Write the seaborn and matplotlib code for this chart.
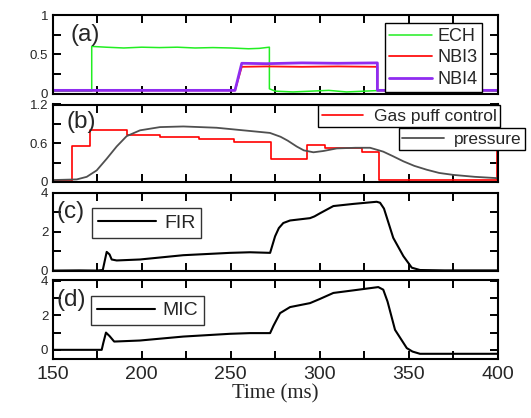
import numpy as np
import pandas as pd
import matplotlib
matplotlib.use("Agg")
import matplotlib.pyplot as plt
import seaborn as sns
from matplotlib.ticker import MultipleLocator

# ---- data (time in ms) ----
ech_t = [150, 160, 172, 172, 180, 190, 200, 210, 220, 230, 240, 250, 260, 266, 271.7, 271.7,
         275, 285, 295, 305, 315, 325, 335, 345, 360, 375, 390, 400]
ech_v = [0.03, 0.03, 0.03, 0.60, 0.59, 0.58, 0.59, 0.585, 0.59, 0.58, 0.585, 0.58, 0.57, 0.575, 0.59, 0.06,
         0.03, 0.02, 0.03, 0.04, 0.02, 0.03, 0.04, 0.02, 0.03, 0.02, 0.04, 0.03]
nbi3_t = [150, 200, 252.4, 256.2, 270, 290, 310, 332.3, 332.3, 360, 400]
nbi3_v = [0.04, 0.04, 0.04, 0.34, 0.345, 0.34, 0.345, 0.34, 0.04, 0.04, 0.04]
nbi4_t = [150, 200, 252.4, 256.2, 270, 290, 310, 332.3, 332.3, 360, 400]
nbi4_v = [0.04, 0.04, 0.04, 0.385, 0.38, 0.39, 0.385, 0.39, 0.04, 0.04, 0.04]

gas_t = [150, 160.8, 160.8, 171, 171, 191.6, 191.6, 210.3, 210.3, 232, 232, 252, 252, 272.5, 272.5,
         293, 293, 302.9, 302.9, 323.5, 323.5, 333.4, 333.4, 399.5, 399.5]
gas_v = [0.02, 0.02, 0.55, 0.55, 0.81, 0.81, 0.73, 0.73, 0.70, 0.70, 0.66, 0.66, 0.62, 0.62, 0.36,
         0.36, 0.57, 0.57, 0.52, 0.52, 0.47, 0.47, 0.03, 0.03, 0.48]
pres_t = [150, 163.6, 169.2, 174.8, 180.4, 186, 191.6, 199.1, 210.3, 223.4, 242.1, 260.8, 272,
          278, 282, 287, 291, 296.4, 302, 309.5, 320, 328.2, 335.6, 341, 346.9, 353, 360, 367, 374.9, 387, 399.3]
pres_v = [0.03, 0.04, 0.08, 0.18, 0.36, 0.55, 0.71, 0.80, 0.85, 0.86, 0.84, 0.79, 0.76,
          0.70, 0.64, 0.55, 0.49, 0.46, 0.48, 0.52, 0.53, 0.53, 0.47, 0.40, 0.32, 0.25, 0.19, 0.14, 0.11, 0.08, 0.06]

fir_t = [150, 165, 174.8, 178.2, 180.4, 182, 183.2, 186, 199.1, 223.4, 249.6, 260.8, 272.1,
         274.9, 277, 279.5, 283.3, 294.5, 297, 300.1, 307.6, 318.8, 331.9, 333.8, 336, 341.2,
         346.9, 351.6, 356.2, 370, 400]
fir_v = [0.02, 0.03, 0.02, 0.05, 0.98, 0.85, 0.59, 0.54, 0.59, 0.81, 0.93, 0.96, 0.93,
         1.78, 2.2, 2.46, 2.59, 2.71, 2.80, 2.96, 3.33, 3.44, 3.55, 3.50, 3.2, 1.70,
         0.76, 0.17, 0.05, 0.03, 0.03]
mic_t = [150, 177.6, 178.5, 180, 182, 184.6, 199, 223.4, 249.6, 260.8, 272.1,
         274, 277.7, 283.3, 294.5, 300, 307.6, 318.8, 332.8, 335.6, 338, 342.2,
         348.8, 352, 356.2, 370, 400]
mic_v = [0.0, 0.0, 0.4, 1.0, 0.8, 0.48, 0.54, 0.77, 0.93, 0.97, 0.97,
         1.4, 2.13, 2.48, 2.71, 2.95, 3.30, 3.45, 3.64, 3.49, 2.8, 1.16,
         0.10, -0.1, -0.23, -0.23, -0.23]

sns.set_style("ticks")
plt.rcParams['font.family'] = ['Liberation Sans', 'DejaVu Sans']

fig = plt.figure(figsize=(5.31, 4.18), dpi=100)
L, W = 0.0989, 0.839
ax_a = fig.add_axes([L, 0.7763, W, 0.1878])
ax_b = fig.add_axes([L, 0.5646, W, 0.1854])
ax_c = fig.add_axes([L, 0.3517, W, 0.1866])
ax_d = fig.add_axes([L, 0.1404, W, 0.1897])


def style(ax, ylim, major, minor, labels):
    ax.set_xlim(150, 400)
    ax.set_ylim(*ylim)
    ax.xaxis.set_major_locator(MultipleLocator(50))
    ax.xaxis.set_minor_locator(MultipleLocator(25))
    ax.set_yticks(major)
    ax.set_yticklabels(labels)
    ax.yaxis.set_minor_locator(MultipleLocator(minor))
    ax.tick_params(which='both', direction='in', top=True, right=True, width=1.4, color='black')
    ax.tick_params(which='major', length=6)
    ax.tick_params(which='minor', length=6)
    ax.tick_params(axis='y', labelsize=9.5, pad=3)
    for s in ax.spines.values():
        s.set_linewidth(1.5)
        s.set_color('black')
    ax.set_xlabel('')
    ax.set_ylabel('')


# (a) heating
sns.lineplot(x=ech_t, y=ech_v, ax=ax_a, color='#22ee22', lw=1.1, sort=False, estimator=None, label='ECH')
sns.lineplot(x=nbi3_t, y=nbi3_v, ax=ax_a, color='#ff1010', lw=1.3, sort=False, estimator=None, label='NBI3')
sns.lineplot(x=nbi4_t, y=nbi4_v, ax=ax_a, color='#8f2cf0', lw=2.0, sort=False, estimator=None, label='NBI4')
style(ax_a, (0, 1.0), [0, 0.5, 1], 0.25, ['0', '0.5', '1'])
ax_a.legend(loc='upper right', bbox_to_anchor=(0.965, 0.894), borderaxespad=0, fontsize=13,
            frameon=True, fancybox=False, edgecolor='black', handlelength=2.4, labelspacing=0.25,
            borderpad=0.25, handletextpad=0.3, framealpha=1).get_frame().set_linewidth(1.0)

# (b) gas puff / pressure
sns.lineplot(x=gas_t, y=gas_v, ax=ax_b, color='#ff0000', lw=1.2, sort=False, estimator=None, legend=False)
sns.lineplot(x=pres_t, y=pres_v, ax=ax_b, color='#505050', lw=1.3, sort=False, estimator=None, legend=False)
style(ax_b, (0, 1.2), [0, 0.6, 1.2], 0.3, ['0', '0.6', '1.2'])
gas_line = ax_b.lines[0]
pres_line = ax_b.lines[1]
leg1 = ax_b.legend([gas_line], ['Gas puff control'], loc='upper right', bbox_to_anchor=(1.0045, 0.994),
                   borderaxespad=0, fontsize=12.5, fancybox=False, edgecolor='black', handlelength=2.4,
                   borderpad=0.2, handletextpad=0.6, framealpha=1)
leg1.get_frame().set_linewidth(1.0)
ax_b.add_artist(leg1)
leg2 = ax_b.legend([pres_line], ['pressure'], loc='upper right', bbox_to_anchor=(1.061, 0.693),
                   borderaxespad=0, fontsize=12.5, fancybox=False, edgecolor='black', handlelength=2.4,
                   borderpad=0.2, handletextpad=0.6, framealpha=1)
leg2.get_frame().set_linewidth(1.0)

# (c) FIR
sns.lineplot(x=fir_t, y=fir_v, ax=ax_c, color='black', lw=1.5, sort=False, estimator=None, label='FIR')
style(ax_c, (0, 4), [0, 2, 4], 1, ['0', '2', '4'])
ax_c.legend(loc='upper left', bbox_to_anchor=(0.0893, 0.804), borderaxespad=0, fontsize=14,
            fancybox=False, edgecolor='#333333', handlelength=3.0, borderpad=0.3, handletextpad=0.4,
            framealpha=1).get_frame().set_linewidth(1.0)

# (d) MIC
sns.lineplot(x=mic_t, y=mic_v, ax=ax_d, color='black', lw=1.5, sort=False, estimator=None, label='MIC')
style(ax_d, (-0.55, 4.05), [0, 2, 4], 1, ['0', '2', '4'])
ax_d.legend(loc='upper left', bbox_to_anchor=(0.0857, 0.798), borderaxespad=0, fontsize=14,
            fancybox=False, edgecolor='#333333', handlelength=3.0, borderpad=0.3, handletextpad=0.4,
            framealpha=1).get_frame().set_linewidth(1.0)

for ax in (ax_a, ax_b, ax_c):
    ax.tick_params(axis='x', labelbottom=False)
ax_d.tick_params(axis='x', labelsize=14, pad=5)
ax_d.set_xlabel('Time (ms)', family=['Liberation Serif'], fontsize=15, labelpad=1)

for ax, lab, xx, yy in ((ax_a, '(a)', 0.04, 0.745), (ax_b, '(b)', 0.032, 0.778),
                        (ax_c, '(c)', 0.01, 0.76), (ax_d, '(d)', 0.01, 0.75)):
    ax.text(xx, yy, lab, transform=ax.transAxes, fontsize=17.5, va='center', ha='left', zorder=5)

fig.savefig('out.png', dpi=100)
